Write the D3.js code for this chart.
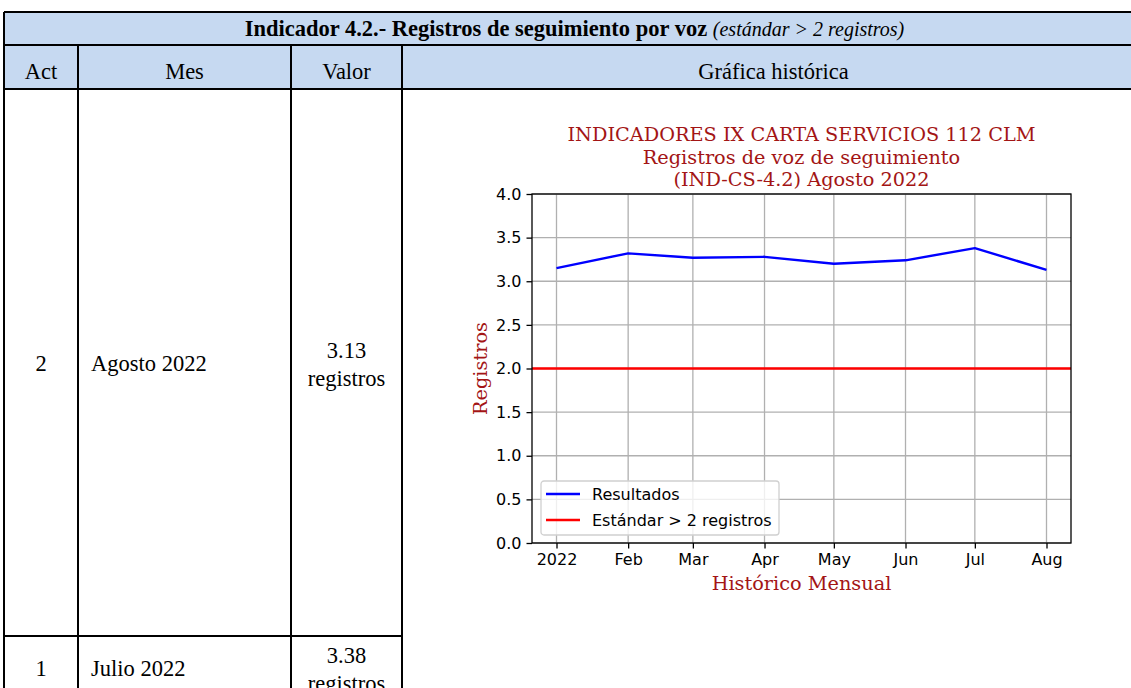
<!DOCTYPE html>
<html>
<head>
<meta charset="utf-8">
<script src="https://cdn.jsdelivr.net/npm/d3@7"></script>
<style>
  body { margin: 0; background: #fff; }
  svg { display: block; }
</style>
</head>
<body>
<div class="svg-canvas"></div>
<script>
// Data
var months = ["2022-01-01", "2022-02-01", "2022-03-01", "2022-04-01",
              "2022-05-01", "2022-06-01", "2022-07-01", "2022-08-01"];
var monthLabels = ["2022", "Feb", "Mar", "Apr", "May", "Jun", "Jul", "Aug"];
var resultados = [3.15, 3.32, 3.27, 3.28, 3.20, 3.24, 3.38, 3.13];
var estandar = 2;
var yTicks = [0, 0.5, 1.0, 1.5, 2.0, 2.5, 3.0, 3.5, 4.0];

// Table rows
var rowAct = ["2", "1"];
var rowMes = ["Agosto 2022", "Julio 2022"];
var rowValor = ["3.13", "3.38"];

var W = 1131, H = 688;
var tableFont = "'Liberation Serif', serif";
var titleRed = "#a31515";

var svg = d3.select(".svg-canvas").append("svg")
    .attr("width", W)
    .attr("height", H);

// ---- table ----
var tb = {left: 4, right: 1145, top: 12, r1: 45, r2: 89, r3: 636, bottom: 720};
var cols = [78, 291, 402];

svg.append("rect")
    .attr("x", tb.left).attr("y", tb.top)
    .attr("width", tb.right - tb.left).attr("height", tb.r2 - tb.top)
    .attr("fill", "#c6d9f1");

var lines = svg.append("g").attr("stroke", "#000").attr("stroke-width", 2);
[tb.top, tb.r1, tb.r2].forEach(function(y) {
    lines.append("line").attr("x1", tb.left).attr("x2", tb.right).attr("y1", y).attr("y2", y);
});
lines.append("line").attr("x1", tb.left).attr("x2", cols[2]).attr("y1", tb.r3).attr("y2", tb.r3);
lines.append("line").attr("x1", tb.left).attr("x2", tb.left).attr("y1", tb.top).attr("y2", tb.bottom);
cols.forEach(function(x) {
    lines.append("line").attr("x1", x).attr("x2", x).attr("y1", tb.r1).attr("y2", tb.bottom);
});

var head = svg.append("text")
    .attr("x", (tb.left + tb.right) / 2).attr("y", 36)
    .attr("text-anchor", "middle")
    .style("font-family", tableFont).style("font-size", "22.5px");
head.append("tspan").attr("font-weight", "bold").text("Indicador 4.2.- Registros de seguimiento por voz ");
head.append("tspan").attr("font-style", "italic").style("font-size", "20px").text("(estándar > 2 registros)");

var heads = [["Act", (tb.left + cols[0]) / 2], ["Mes", (cols[0] + cols[1]) / 2],
             ["Valor", (cols[1] + cols[2]) / 2], ["Gráfica histórica", (cols[2] + tb.right) / 2]];
heads.forEach(function(h) {
    svg.append("text").attr("x", h[1]).attr("y", 79)
        .attr("text-anchor", "middle")
        .style("font-family", tableFont).style("font-size", "22.5px")
        .text(h[0]);
});

var rowMid = [(tb.r2 + tb.r3) / 2, 668];
rowAct.forEach(function(d, i) {
    var y = rowMid[i];
    svg.append("text").attr("x", (tb.left + cols[0]) / 2).attr("y", y + 8)
        .attr("text-anchor", "middle")
        .style("font-family", tableFont).style("font-size", "22.5px").text(d);
    svg.append("text").attr("x", 91).attr("y", y + 8)
        .style("font-family", tableFont).style("font-size", "22.5px").text(rowMes[i]);
    svg.append("text").attr("x", (cols[1] + cols[2]) / 2).attr("y", y - 5)
        .attr("text-anchor", "middle")
        .style("font-family", tableFont).style("font-size", "22.5px").text(rowValor[i]);
    svg.append("text").attr("x", (cols[1] + cols[2]) / 2).attr("y", y + 23)
        .attr("text-anchor", "middle")
        .style("font-family", tableFont).style("font-size", "22.5px").text("registros");
});

// ---- chart ----
var plot = {left: 532, right: 1071, top: 194, bottom: 543};
var dates = months.map(function(s) { return d3.timeParse("%Y-%m-%d")(s); });
var span = dates[dates.length - 1] - dates[0];
var x = d3.scaleTime()
    .domain([new Date(+dates[0] - span * 0.05), new Date(+dates[dates.length - 1] + span * 0.05)])
    .range([plot.left, plot.right]);
var y = d3.scaleLinear().domain([0, 4]).range([plot.bottom, plot.top]);

var chart = svg.append("g");

// grid
chart.append("g").selectAll("line").data(dates).enter().append("line")
    .attr("x1", function(d) { return x(d); }).attr("x2", function(d) { return x(d); })
    .attr("y1", plot.top).attr("y2", plot.bottom)
    .attr("stroke", "#b0b0b0").attr("stroke-width", 1.3);
chart.append("g").selectAll("line").data(yTicks).enter().append("line")
    .attr("x1", plot.left).attr("x2", plot.right)
    .attr("y1", function(d) { return y(d); }).attr("y2", function(d) { return y(d); })
    .attr("stroke", "#b0b0b0").attr("stroke-width", 1.3);

// standard line (axhline, full width)
chart.append("line")
    .attr("x1", plot.left).attr("x2", plot.right)
    .attr("y1", y(estandar)).attr("y2", y(estandar))
    .attr("stroke", "#ff0000").attr("stroke-width", 2.4);

// results line
var line = d3.line()
    .x(function(d, i) { return x(dates[i]); })
    .y(function(d) { return y(d); });
chart.append("path")
    .datum(resultados)
    .attr("d", line)
    .attr("fill", "none")
    .attr("stroke", "#0000ff")
    .attr("stroke-width", 2.4)
    .attr("stroke-linejoin", "round");

// axes
var xAxis = d3.axisBottom(x)
    .tickValues(dates)
    .tickFormat(function(d, i) { return monthLabels[i]; })
    .tickSize(5.5).tickPadding(5).tickSizeOuter(0);
var yAxis = d3.axisLeft(y)
    .tickValues(yTicks)
    .tickFormat(d3.format(".1f"))
    .tickSize(5.5).tickPadding(5).tickSizeOuter(0);

var gx = chart.append("g").attr("transform", "translate(0," + plot.bottom + ")").call(xAxis);
var gy = chart.append("g").attr("transform", "translate(" + plot.left + ",0)").call(yAxis);
[gx, gy].forEach(function(g) {
    g.select(".domain").remove();
    g.selectAll(".tick line").attr("stroke", "#000").attr("stroke-width", 1.3);
    g.selectAll(".tick text")
        .style("font-family", "'DejaVu Sans', sans-serif")
        .style("font-size", "16px")
        .attr("fill", "#000");
});

// spines
chart.append("rect")
    .attr("x", plot.left).attr("y", plot.top)
    .attr("width", plot.right - plot.left).attr("height", plot.bottom - plot.top)
    .attr("fill", "none").attr("stroke", "#000").attr("stroke-width", 1.3);

// titles
var titleLines = ["INDICADORES IX CARTA SERVICIOS 112 CLM",
                  "Registros de voz de seguimiento",
                  "(IND-CS-4.2) Agosto 2022"];
var cx = (plot.left + plot.right) / 2;
chart.append("g").selectAll("text").data(titleLines).enter().append("text")
    .attr("x", cx)
    .attr("y", function(d, i) { return 141 + i * 22.5; })
    .attr("text-anchor", "middle")
    .style("font-family", "'DejaVu Serif', serif")
    .style("font-size", "19.3px")
    .attr("fill", titleRed)
    .text(function(d) { return d; });

chart.append("text")
    .attr("x", cx).attr("y", 590)
    .attr("text-anchor", "middle")
    .style("font-family", "'DejaVu Serif', serif")
    .style("font-size", "19.3px")
    .attr("fill", titleRed)
    .text("Histórico Mensual");

chart.append("text")
    .attr("transform", "translate(487," + (plot.top + plot.bottom) / 2 + ") rotate(-90)")
    .attr("text-anchor", "middle")
    .style("font-family", "'DejaVu Serif', serif")
    .style("font-size", "19.3px")
    .attr("fill", titleRed)
    .text("Registros");

// legend
var legItems = [["Resultados", "#0000ff"], ["Estándar > 2 registros", "#ff0000"]];
var leg = chart.append("g").attr("transform", "translate(541,481)");
leg.append("rect")
    .attr("width", 238).attr("height", 54)
    .attr("rx", 3).attr("ry", 3)
    .attr("fill", "#fff").attr("fill-opacity", 0.8)
    .attr("stroke", "#d0d0d0").attr("stroke-width", 1.3);
legItems.forEach(function(d, i) {
    var ly = 13 + i * 26;
    leg.append("line")
        .attr("x1", 5).attr("x2", 39).attr("y1", ly).attr("y2", ly)
        .attr("stroke", d[1]).attr("stroke-width", 2.4);
    leg.append("text")
        .attr("x", 51).attr("y", ly + 6)
        .style("font-family", "'DejaVu Sans', sans-serif")
        .style("font-size", "16px")
        .text(d[0]);
});
</script>
</body>
</html>
